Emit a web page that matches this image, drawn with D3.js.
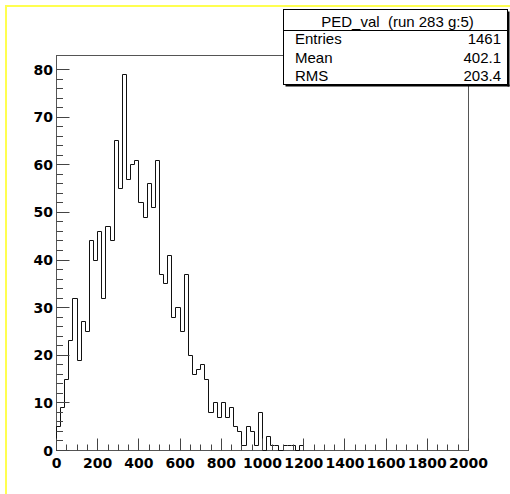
<!DOCTYPE html>
<html>
<head>
<meta charset="utf-8">
<script src="https://cdn.jsdelivr.net/npm/d3@7"></script>
<style>
  html, body { margin: 0; padding: 0; background: #fff; }
  svg { display: block; }
</style>
</head>
<body>
<svg id="chart" width="510" height="494"></svg>
<script>
// Histogram PED_val: 20-wide bins starting at 0 (counts per bin, in order)
const binWidth = 20;
const counts = [
  5, 9, 15, 23, 32, 19, 27, 25, 44, 40,
  46, 32, 47, 44, 65, 55, 79, 57, 60, 61,
  52, 49, 56, 51, 61, 37, 35, 41, 28, 30,
  25, 37, 20, 16, 17, 18, 15, 8, 10, 7,
  10, 7, 9, 5, 4, 1, 5, 4, 1, 8,
  0, 3, 1, 1, 0, 1, 1, 1, 0, 1
];

// Axis ranges and tick labels
const xDomain = [0, 2000];
const yDomain = [0, 82.95];
const xTickLabels = [0, 200, 400, 600, 800, 1000, 1200, 1400, 1600, 1800, 2000];
const xMinorStep = 50;
const yTickLabels = [0, 10, 20, 30, 40, 50, 60, 70, 80];
const yMinorStep = 2;

// Statistics box text
const statsTitle = "PED_val  (run 283 g:5)";
const statsNames = ["Entries", "Mean", "RMS"];
const statsValues = ["1461", "402.1", "203.4"];

const svg = d3.select("#chart");
const frame = { left: 56.5, right: 468.5, top: 55.5, bottom: 450.5 };

const x = d3.scaleLinear().domain(xDomain).range([frame.left, frame.right]);
const y = d3.scaleLinear().domain(yDomain).range([frame.bottom, frame.top]);

// Canvas border (yellow) on top and left
svg.append("rect").attr("x", 5).attr("y", 5).attr("width", 505).attr("height", 2).attr("fill", "#ffff50");
svg.append("rect").attr("x", 5).attr("y", 5).attr("width", 2).attr("height", 489).attr("fill", "#ffff50");

// Frame
svg.append("rect")
  .attr("x", frame.left).attr("y", frame.top)
  .attr("width", frame.right - frame.left).attr("height", frame.bottom - frame.top)
  .attr("fill", "none").attr("stroke", "#555").attr("stroke-width", 1);

const snap = v => Math.round(v - 0.5) + 0.5;

// Histogram outline as a step path
const pts = [];
pts.push([snap(x(0)), snap(y(0))]);
counts.forEach((c, i) => {
  const x0 = snap(x(i * binWidth)), x1 = snap(x((i + 1) * binWidth));
  const yy = snap(y(c));
  pts.push([x0, yy]);
  pts.push([x1, yy]);
});
pts.push([snap(x(counts.length * binWidth)), snap(y(0))]);

svg.append("path")
  .attr("d", d3.line()(pts))
  .attr("fill", "none")
  .attr("stroke", "#111")
  .attr("stroke-width", 1);

// X ticks (major with labels, minor in between)
const xAxisG = svg.append("g");
const xMinor = d3.range(xDomain[0], xDomain[1] + 1, xMinorStep);
xMinor.forEach(v => {
  const major = xTickLabels.includes(v);
  const px = snap(x(v));
  xAxisG.append("line")
    .attr("x1", px).attr("x2", px)
    .attr("y1", frame.bottom).attr("y2", frame.bottom - (major ? 12 : 6))
    .attr("stroke", "#444").attr("stroke-width", 1);
});
xTickLabels.forEach(v => {
  xAxisG.append("text")
    .attr("x", x(v)).attr("y", 468)
    .attr("text-anchor", "middle")
    .attr("font-family", "DejaVu Sans")
    .attr("font-weight", "bold")
    .attr("font-size", 14)
    .attr("fill", "#000")
    .text(v);
});

// Y ticks
const yAxisG = svg.append("g");
const yMinor = d3.range(0, 82, yMinorStep);
yMinor.forEach(v => {
  const major = yTickLabels.includes(v);
  const py = snap(y(v));
  yAxisG.append("line")
    .attr("x1", frame.left).attr("x2", frame.left + (major ? 13 : 6.5))
    .attr("y1", py).attr("y2", py)
    .attr("stroke", "#444").attr("stroke-width", 1);
});
yTickLabels.forEach(v => {
  yAxisG.append("text")
    .attr("x", 53).attr("y", y(v) + 5)
    .attr("text-anchor", "end")
    .attr("font-family", "DejaVu Sans")
    .attr("font-weight", "bold")
    .attr("font-size", 14)
    .attr("fill", "#000")
    .text(v);
});

// Statistics box with shadow
const box = { x: 283.5, y: 9.5, w: 224, h: 75 };
svg.append("rect").attr("x", box.x + 2).attr("y", box.y + box.h).attr("width", box.w).attr("height", 2).attr("fill", "#000");
svg.append("rect").attr("x", box.x + box.w).attr("y", box.y + 2).attr("width", 2).attr("height", box.h).attr("fill", "#000");
svg.append("rect")
  .attr("x", box.x).attr("y", box.y).attr("width", box.w).attr("height", box.h)
  .attr("fill", "#fff").attr("stroke", "#000").attr("stroke-width", 1);
svg.append("line")
  .attr("x1", box.x).attr("x2", box.x + box.w)
  .attr("y1", 30.5).attr("y2", 30.5)
  .attr("stroke", "#000").attr("stroke-width", 1);

svg.append("text")
  .attr("x", 397.5).attr("y", 26.5)
  .attr("text-anchor", "middle")
  .attr("font-family", "Liberation Sans")
  .attr("font-size", 15)
  .style("white-space", "pre")
  .attr("fill", "#000")
  .text(statsTitle);

const rowBase = [43.5, 62.5, 80.5];
statsNames.forEach((name, i) => {
  svg.append("text")
    .attr("x", 295).attr("y", rowBase[i])
    .attr("font-family", "Liberation Sans")
    .attr("font-size", 15)
    .attr("fill", "#000")
    .text(name);
  svg.append("text")
    .attr("x", 501).attr("y", rowBase[i])
    .attr("text-anchor", "end")
    .attr("font-family", "Liberation Sans")
    .attr("font-size", 15)
    .attr("fill", "#000")
    .text(statsValues[i]);
});
</script>
</body>
</html>
